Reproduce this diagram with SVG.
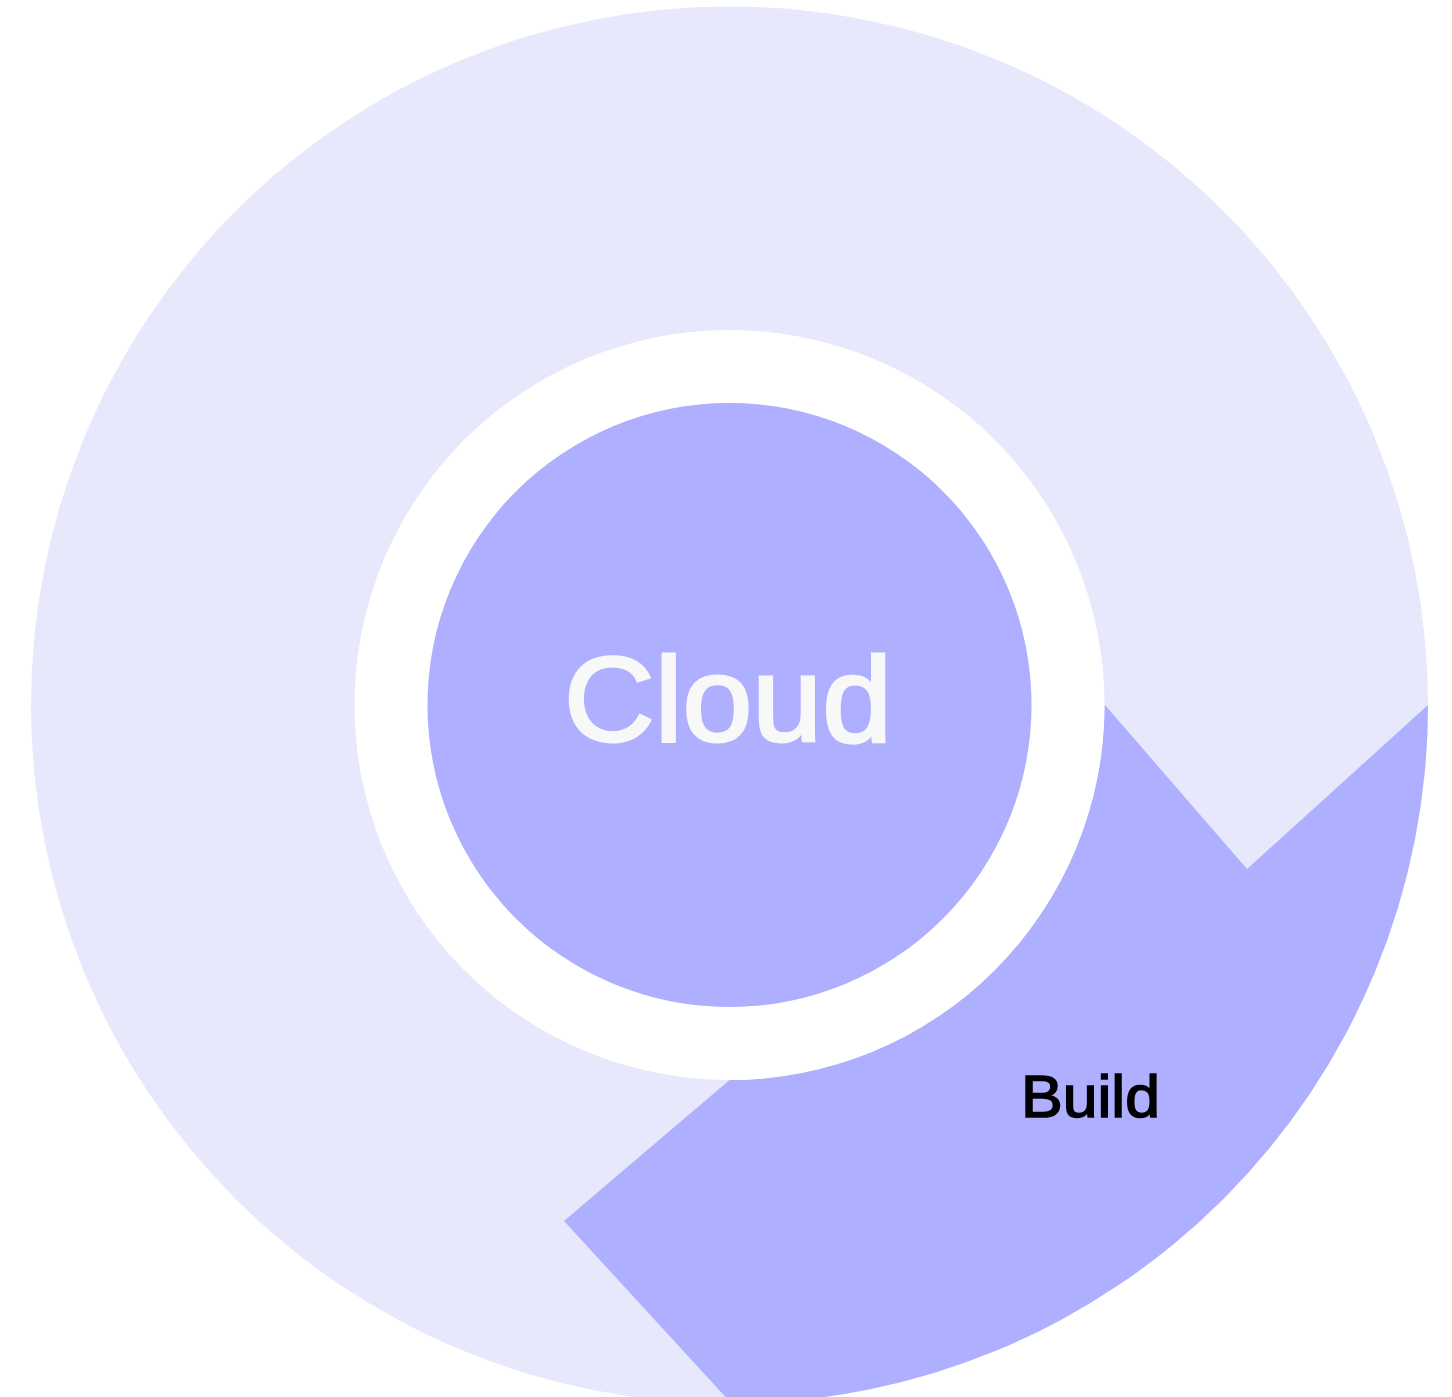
<svg xmlns="http://www.w3.org/2000/svg" width="1452" height="1397" viewBox="0 0 1452 1397">
<style>
.light{fill:#E8E8FD}
.purple{fill:#AEAFFF}
.label{font-family:"Liberation Sans",Arial,sans-serif}
</style>
<rect width="1452" height="1397" fill="#ffffff"/>
<g id="outer-ring">
<circle class="light" cx="729.5" cy="705" r="698.5"/>
</g>
<g id="build">
<path class="purple" d="M1105,705 L1247,869 L1428,705 A698.5 698.5 0 0 1 731.5,1403.5 L564,1221 L729.5,1080 A375 375 0 0 0 1104.5,705 Z"/>
<text class="label" x="1090.5" y="1117" font-size="60" text-anchor="middle" fill="#000000" stroke="#000000" stroke-width="1.6" textLength="139" lengthAdjust="spacingAndGlyphs">Build</text>
</g>
<g id="gap">
<path fill="#ffffff" d="M729.5,330 A375 375 0 0 0 354.5,705 A375 375 0 0 0 729.5,1080 A375 375 0 0 0 1104.5,705 A375 375 0 0 0 729.5,330 Z M729.5,403 A302 302 0 0 1 1031.5,705 A302 302 0 0 1 729.5,1007 A302 302 0 0 1 427.5,705 A302 302 0 0 1 729.5,403 Z" fill-rule="evenodd"/>
</g>
<g id="cloud">
<circle class="purple" cx="729.5" cy="705" r="302"/>
<text class="label" x="728" y="741" font-size="120" text-anchor="middle" fill="#F8F8F8" stroke="#F8F8F8" stroke-width="3" textLength="328" lengthAdjust="spacingAndGlyphs">Cloud</text>
</g>
<g id="connectors"></g>
</svg>
